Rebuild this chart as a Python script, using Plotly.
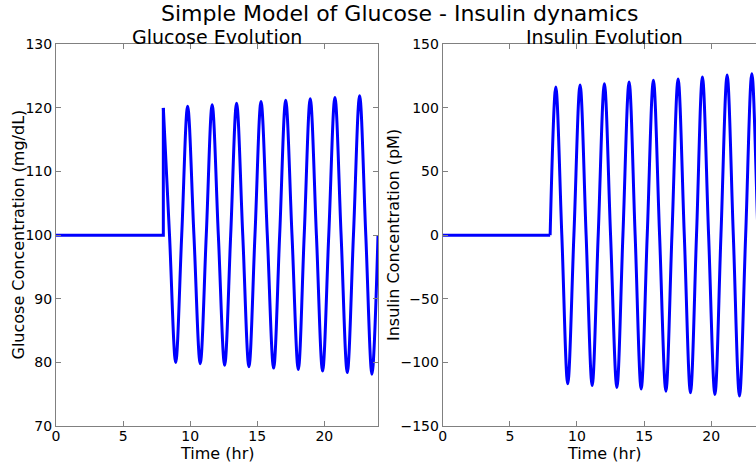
import plotly.graph_objects as go

# ---------------- data ----------------
# Glucose: baseline before the meal, then oscillation (peaks / mean crossings / troughs)
glu_base_t = [0, 8, 8]
glu_base_v = [100, 100, 120]
glu_osc_t = [8.0, 8.46, 8.92, 9.37, 9.81, 10.28, 10.75, 11.2, 11.64, 12.1, 12.57, 13.02,
             13.46, 13.92, 14.38, 14.83, 15.28, 15.75, 16.22, 16.67, 17.12, 17.59,
             18.06, 18.5, 18.95, 19.41, 19.87, 20.33, 20.79, 21.25, 21.71, 22.17,
             22.63, 23.09, 23.55, 24.0]
glu_osc_v = [120.0, 100, 80.0, 100, 120.25, 100, 79.8, 100, 120.5, 100, 79.55, 100,
             120.75, 100, 79.3, 100, 121.0, 100, 79.1, 100, 121.2, 100,
             78.9, 100, 121.45, 100, 78.65, 100, 121.65, 100, 78.4, 100,
             121.9, 100, 78.15, 100]

# Insulin: baseline, then oscillation
ins_base_t = [0, 8]
ins_base_v = [0, 0]
ins_osc_t = [8.0, 8.42, 8.87, 9.31, 9.77, 10.23, 10.68, 11.13, 11.58, 12.04, 12.5,
             12.97, 13.42, 13.88, 14.33, 14.78, 15.23, 15.69, 16.15, 16.62, 17.07,
             17.53, 17.99, 18.45, 18.9, 19.34, 19.8, 20.27, 20.72, 21.18, 21.64,
             22.1, 22.56, 23.02, 23.48, 23.94]
ins_osc_v = [0, 116.5, 0, -116.8, 0, 118.0, 0, -118.1, 0, 119.0, 0,
             -119.7, 0, 120.4, 0, -121.0, 0, 121.7, 0, -122.6, 0,
             122.7, 0, -123.9, 0, 124.3, 0, -125.2, 0, 125.8, 0,
             -126.5, 0, 126.9, 0, -127.5]

x_ticks = [0, 5, 10, 15, 20]
glu_ticks = [70, 80, 90, 100, 110, 120, 130]
ins_ticks = [-150, -100, -50, 0, 50, 100, 150]

# ---------------- figure ----------------
W, H = 756, 464
BLUE = "#0000FF"
SPINE = "#808080"
FONT = "DejaVu Sans"

def px_x(p):
    return p / W

def px_y(p):
    return 1 - p / H

fig = go.Figure()
line = dict(color=BLUE, width=3)
fig.add_trace(go.Scatter(x=glu_base_t, y=glu_base_v, mode="lines", line=line,
                         xaxis="x", yaxis="y", showlegend=False, hoverinfo="skip"))
fig.add_trace(go.Scatter(x=glu_osc_t, y=glu_osc_v, mode="lines",
                         line=dict(color=BLUE, width=3, shape="spline", smoothing=1.0),
                         xaxis="x", yaxis="y", showlegend=False))
fig.add_trace(go.Scatter(x=ins_base_t, y=ins_base_v, mode="lines", line=line,
                         xaxis="x2", yaxis="y2", showlegend=False, hoverinfo="skip"))
fig.add_trace(go.Scatter(x=ins_osc_t, y=ins_osc_v, mode="lines",
                         line=dict(color=BLUE, width=3, shape="spline", smoothing=1.0),
                         xaxis="x2", yaxis="y2", showlegend=False))

tickfont = dict(family=FONT, size=14, color="#000000")
common = dict(showgrid=False, zeroline=False, showline=True, linecolor=SPINE,
              linewidth=1, ticks="inside", ticklen=5, tickcolor=SPINE,
              tickfont=tickfont, automargin=False)

y_dom = [px_y(426), px_y(44.3)]
fig.update_layout(
    width=W, height=H,
    margin=dict(l=0, r=0, t=0, b=0),
    paper_bgcolor="white", plot_bgcolor="white",
    xaxis=dict(domain=[px_x(56), px_x(378)], range=[0, 24], tickvals=x_ticks,
               mirror="ticks", anchor="y", ticklabelstandoff=-3, **common),
    yaxis=dict(domain=y_dom, range=[70, 130], tickvals=glu_ticks,
               mirror="ticks", anchor="x", **common),
    xaxis2=dict(domain=[px_x(442.7), 1.0], range=[0, (756 - 442.7) / ((765 - 442.7) / 24)],
                tickvals=x_ticks, mirror="ticks", anchor="y2", ticklabelstandoff=-3,
                **common),
    yaxis2=dict(domain=y_dom, range=[-150, 150], tickvals=ins_ticks,
                anchor="x2", **common),
)

ann = []
def add_text(text, x, y, size, angle=0):
    ann.append(dict(text=text, x=px_x(x), y=px_y(y), xref="paper", yref="paper",
                    showarrow=False, xanchor="center", yanchor="middle",
                    textangle=angle, font=dict(family=FONT, size=size, color="#000000")))

add_text("Simple Model of Glucose - Insulin dynamics", 399, 14, 22)
add_text("Glucose Evolution", 217, 37, 19)
add_text("Insulin Evolution", 604, 37, 19)
add_text("Time (hr)", 217, 453, 16)
add_text("Time (hr)", 604, 453, 16)
add_text("Glucose Concentration (mg/dL)", 17.5, 235, 16, -90)
add_text("Insulin Concentration (pM)", 393, 235, 16, -90)
fig.update_layout(annotations=ann)

fig.write_html("out.html")
